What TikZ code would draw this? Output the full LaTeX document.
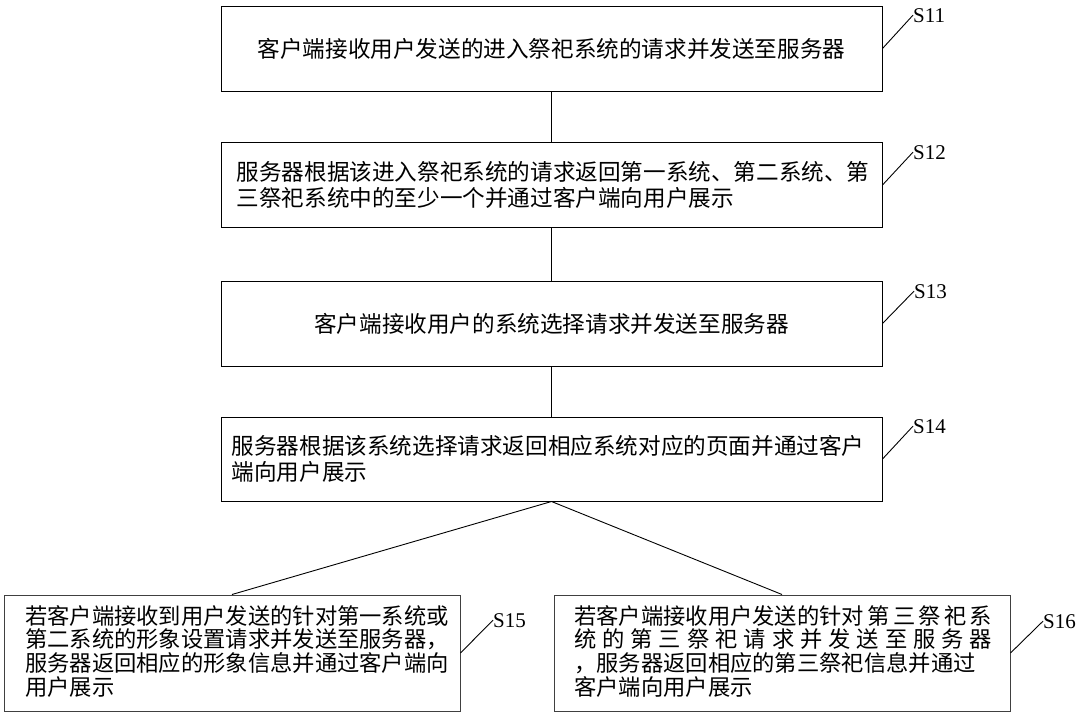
\documentclass[tikz,border=0pt]{standalone}
\usepackage{fontspec}
\setmainfont{Liberation Serif}
\newfontfamily\cjk{Noto Sans CJK SC}
\begin{document}
\begin{tikzpicture}[x=1pt,y=-1pt,
  box/.style={draw=black, line width=1pt, minimum width=661pt, minimum height=85pt, inner sep=0pt},
  lowbox/.style={draw=black!75, line width=1pt, minimum width=456pt, minimum height=116pt, inner sep=0pt},
  toptext/.style={font={\cjk\fontsize{22.6}{26.5}\selectfont}, inner sep=0pt, align=left},
  lowtext/.style={font={\cjk\fontsize{22.3}{23.7}\selectfont}, inner sep=0pt, align=left, anchor=north west},
  steplabel/.style={font={\fontsize{21}{21}\selectfont}, inner sep=0pt, anchor=base west},
  link/.style={draw=black, line width=0.9pt}
]
\useasboundingbox (0,0) rectangle (1080,718);
\fill[white] (0,0) rectangle (1080,718);
% boxes
\node[box] (b1) at (551.5,48.5) {};
\node[box] (b2) at (551.5,185) {};
\node[box] (b3) at (551.5,323.5) {};
\node[box, minimum height=84pt] (b4) at (551.5,459) {};
\node[lowbox] (b5) at (232,653) {};
\node[lowbox] (b6) at (782,653) {};
% texts
\node[toptext] (t1) at (b1.center) {客户端接收用户发送的进入祭祀系统的请求并发送至服务器};
\node[toptext, anchor=west] (t2) at ([xshift=16pt]b2.west) {服务器根据该进入祭祀系统的请求返回第一系统、第二系统、第\\三祭祀系统中的至少一个并通过客户端向用户展示};
\node[toptext] (t3) at (b3.center) {客户端接收用户的系统选择请求并发送至服务器};
\node[toptext, anchor=west] (t4) at ([xshift=11pt]b4.west) {服务器根据该系统选择请求返回相应系统对应的页面并通过客户\\端向用户展示};
\node[lowtext] (t5) at (25,605) {若客户端接收到用户发送的针对第一系统或\\第二系统的形象设置请求并发送至服务器，\\服务器返回相应的形象信息并通过客户端向\\用户展示};
\node[lowtext] (t6) at (574,605) {\hbox to 418pt{若客户端接收用户发送的针对\hfill 第\hfill 三\hfill 祭\hfill 祀\hfill 系}\\\hbox to 418pt{统\hfill 的\hfill 第\hfill 三\hfill 祭\hfill 祀\hfill 请\hfill 求\hfill 并\hfill 发\hfill 送\hfill 至\hfill 服\hfill 务\hfill 器}\\，服务器返回相应的第三祭祀信息并通过\\客户端向用户展示};
% connectors
\draw[link] (b1.south) -- (b2.north);
\draw[link] (b2.south) -- (b3.north);
\draw[link] (b3.south) -- (b4.north);
\draw[link] (b4.south) -- (b5.north);
\draw[link] (b4.south) -- (b6.north);
% step labels
\node[steplabel] (l1) at (913,22) {S11};
\node[steplabel] (l2) at (913,159) {S12};
\node[steplabel] (l3) at (914,298) {S13};
\node[steplabel] (l4) at (913,433) {S14};
\node[steplabel] (l5) at (493,627) {S15};
\node[steplabel] (l6) at (1043,628) {S16};
\draw[link] (b1.east) -- (l1.west);
\draw[link] (b2.east) -- (l2.west);
\draw[link] (b3.east) -- (l3.west);
\draw[link] (b4.east) -- (l4.west);
\draw[link] (b5.east) -- (l5.west);
\draw[link] (b6.east) -- (l6.west);
\end{tikzpicture}
\end{document}
